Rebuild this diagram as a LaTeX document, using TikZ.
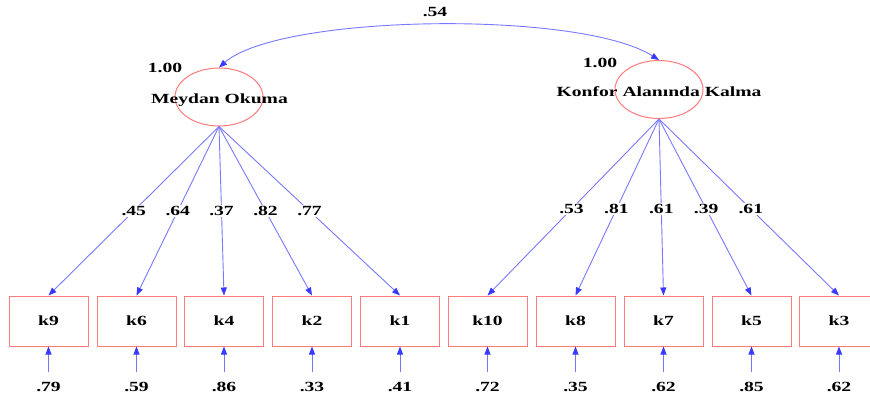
\documentclass[tikz,border=0pt]{standalone}
\usepackage{fontspec}
\setmainfont{Liberation Serif}[FakeStretch=1.4]
\usetikzlibrary{arrows.meta,shapes.geometric}
\definecolor{lineblue}{HTML}{7878FF}
\definecolor{tipblue}{HTML}{3A3AFF}
\definecolor{boxred}{HTML}{FF7A7A}
\begin{document}
\begin{tikzpicture}[x=1pt,y=-1pt,
  every node/.style={font=\fontsize{14}{16}\selectfont\bfseries},
  obs/.style={draw=boxred, line width=1pt, minimum width=79pt, minimum height=50pt, inner sep=0pt},
  lat/.style={draw=boxred, line width=1pt, ellipse, minimum width=88pt, minimum height=58pt, inner sep=0pt},
  path/.style={draw=lineblue, line width=0.9pt, -{Triangle[length=8pt,width=6pt,fill=tipblue,color=tipblue]}},
  coef/.style={fill=white, inner sep=1.5pt}
]
\useasboundingbox (0,0) rectangle (870,399);
\clip (0,0) rectangle (870,399);
% latent variables
\node[lat] (mo) at (219,97) {};
\node[lat] (ka) at (659,89.5) {};
\node (mot) at (219.5,100) {Meydan Okuma};
\node (kat) at (659,92) {Konfor Alanında Kalma};
\node (mov) at (165,68) {1.00};
\node (kav) at (600,63) {1.00};
% covariance
\draw[lineblue, line width=0.9pt, {Triangle[length=8pt,width=6pt,fill=tipblue,color=tipblue]}-{Triangle[length=8pt,width=6pt,fill=tipblue,color=tipblue]}]
  (mo.north) .. controls (280,14) and (580,10) .. (ka.north);
\node (cov) at (435,12) {.54};
% observed variables
\foreach \n/\x/\e in {k9/48.5/.79, k6/136.5/.59, k4/224/.86, k2/312/.33, k1/400/.41,
                      k10/487.5/.72, k8/575.5/.35, k7/663.5/.62, k5/751.5/.85, k3/839/.62}{
  \node[obs] (\n) at (\x,321) {\n};
  \coordinate (s\n) at (\x,372);
  \node (e\n) at (\x,387) {\e};
  \draw[path] (s\n) -- (\n.south);
}
% loadings
\foreach \k/\v in {k9/.45, k6/.64, k4/.37, k2/.82, k1/.77}
  \draw[path] (mo.south) -- node[coef, pos=0.5]{\v} (\k.north);
\foreach \k/\v in {k10/.53, k8/.81, k7/.61, k5/.39, k3/.61}
  \draw[path] (ka.south) -- node[coef, pos=0.51]{\v} (\k.north);
\end{tikzpicture}
\end{document}
